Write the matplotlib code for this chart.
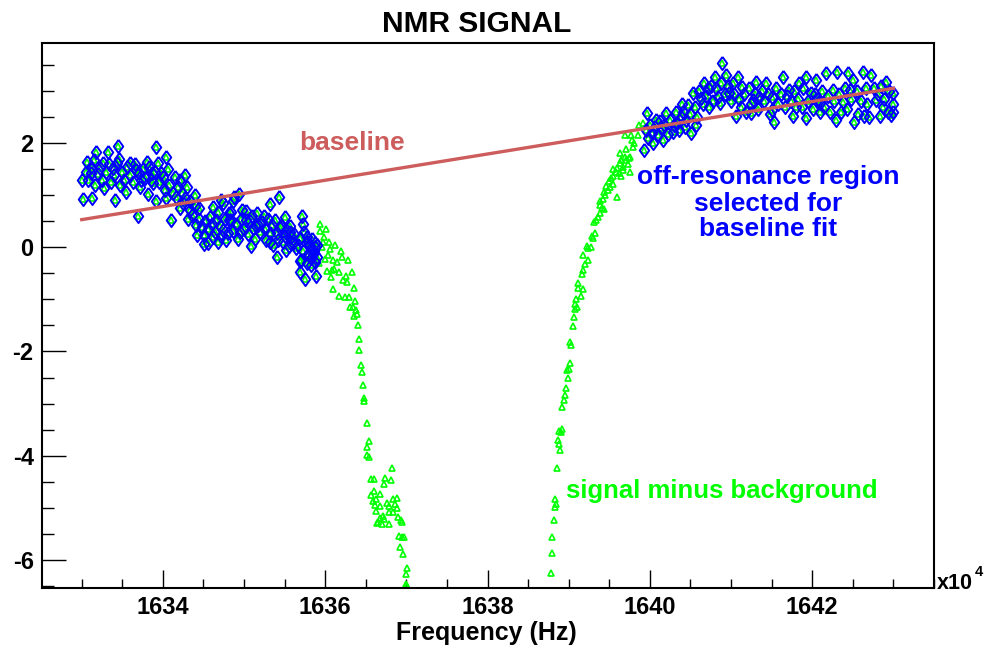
import matplotlib
matplotlib.use("Agg")
import matplotlib.pyplot as plt
from matplotlib.ticker import MultipleLocator, FormatStrFormatter

plt.rcParams['font.family'] = ['Liberation Sans', 'DejaVu Sans']
plt.rcParams['font.weight'] = 'bold'
plt.rcParams['axes.unicode_minus'] = False

# frequency in units of 1e4 Hz, signal in arbitrary units
# off-resonance points below the resonance
low_x = [1633.45, 1633.92, 1633.18, 1633.32, 1634.04, 1633.06, 1633.46, 1633.26, 1633.59, 1633.80,
         1633.94, 1633.00, 1633.11, 1633.38, 1633.67, 1633.86, 1633.98, 1634.27, 1633.16, 1633.28,
         1633.47, 1633.55, 1633.73, 1633.88, 1634.08, 1634.21, 1634.30, 1633.02, 1633.13, 1633.41,
         1633.82, 1633.91, 1634.04, 1634.16, 1634.27, 1634.39, 1633.69, 1634.10, 1634.21, 1634.33,
         1634.45, 1634.31, 1634.41, 1634.58, 1634.62, 1634.68, 1634.51, 1634.62, 1634.74, 1634.84,
         1634.88, 1634.55, 1634.68, 1634.78, 1634.42, 1634.51, 1634.86, 1634.95, 1635.08, 1634.94,
         1634.72, 1635.32, 1635.43, 1635.51, 1635.71, 1635.41, 1635.69, 1635.69, 1635.75, 1635.89,
         1635.85, 1635.60, 1635.32, 1635.17, 1635.03, 1634.82, 1635.52, 1635.77, 1634.86, 1634.74,
         1634.81, 1634.98, 1635.16, 1635.24, 1635.38, 1635.07, 1635.11, 1635.32, 1635.44, 1635.56,
         1635.73, 1635.27, 1635.42, 1635.58, 1635.69, 1635.79, 1635.87, 1635.52, 1635.64, 1635.70,
         1635.79, 1635.90, 1635.80, 1635.84, 1635.88, 1635.86, 1635.82, 1635.83, 1635.87, 1635.90,
         1633.05, 1633.08, 1633.12, 1633.15, 1633.20, 1633.22, 1633.25, 1633.30, 1633.33, 1633.36,
         1633.40, 1633.43, 1633.50, 1633.52, 1633.56, 1633.60, 1633.63, 1633.66, 1633.70, 1633.72,
         1633.76, 1633.78, 1633.83, 1633.85, 1633.90, 1633.95, 1634.00, 1634.02, 1634.06, 1634.12,
         1634.15, 1634.18, 1634.24, 1634.25, 1634.33, 1634.36, 1634.40, 1634.44, 1634.48, 1634.52,
         1634.56, 1634.60, 1634.64, 1634.66, 1634.70, 1634.72, 1634.76, 1634.80, 1634.84, 1634.90,
         1634.92, 1634.96, 1635.00, 1635.02, 1635.05, 1635.10, 1635.13, 1635.15, 1635.20, 1635.22,
         1635.26, 1635.30, 1635.34, 1635.36, 1635.40, 1635.46, 1635.48, 1635.50, 1635.55, 1635.57,
         1635.62, 1635.66, 1635.72, 1635.74, 1635.78, 1635.82]
low_y = [1.95, 1.92, 1.82, 1.83, 1.74, 1.64, 1.69, 1.61, 1.61, 1.63,
         1.61, 1.29, 1.42, 1.52, 1.48, 1.42, 1.42, 1.39, 1.20, 1.13,
         1.20, 1.07, 1.29, 1.23, 1.20, 1.29, 1.16, 0.92, 0.94, 0.91,
         1.02, 0.88, 0.94, 0.97, 0.94, 1.00, 0.60, 0.52, 0.75, 0.72,
         0.75, 0.54, 0.43, 0.59, 0.78, 0.68, 0.24, 0.20, 0.33, 0.52,
         0.97, 0.08, 0.11, 0.14, 0.24, 0.06, 0.32, 0.30, 0.02, 1.02,
         0.91, 0.83, 0.96, 0.59, 0.60, -0.18, -0.26, -0.47, -0.61, -0.56,
         -0.12, 0.08, 0.11, 0.43, 0.52, 0.52, 0.33, 0.20, 0.88, 0.84,
         0.65, 0.72, 0.65, 0.60, 0.52, 0.50, 0.36, 0.27, 0.36, 0.41,
         0.45, 0.13, 0.14, 0.20, 0.17, 0.11, 0.00, -0.05, -0.02, -0.24,
         -0.13, -0.19, 0.05, 0.15, 0.08, -0.08, -0.02, -0.35, -0.28, 0.05,
         1.45, 1.30, 1.55, 1.68, 1.40, 1.52, 1.30, 1.45, 1.60, 1.25,
         1.38, 1.62, 1.45, 1.30, 1.55, 1.38, 1.25, 1.60, 1.42, 1.15,
         1.50, 1.33, 1.55, 1.30, 1.45, 1.25, 1.35, 1.10, 1.50, 1.05,
         1.35, 1.15, 1.05, 0.85, 0.88, 0.62, 0.80, 0.55, 0.38, 0.50,
         0.35, 0.45, 0.30, 0.52, 0.40, 0.22, 0.55, 0.28, 0.68, 0.45,
         0.15, 0.55, 0.35, 0.70, 0.25, 0.60, 0.15, 0.40, 0.30, 0.48,
         0.35, 0.55, 0.42, 0.05, 0.28, 0.40, 0.10, 0.22, 0.02, 0.30,
         0.25, 0.05, -0.08, 0.30, -0.30, -0.20]

# off-resonance points above the resonance
high_x = [1640.89, 1639.97, 1639.93, 1640.04, 1640.16, 1640.28, 1640.34, 1640.20, 1640.08, 1640.45,
          1640.51, 1640.57, 1640.47, 1640.53, 1640.67, 1640.80, 1640.73, 1640.86, 1640.94, 1641.02,
          1641.08, 1641.14, 1640.98, 1641.12, 1641.25, 1641.31, 1641.43, 1641.35, 1641.51, 1641.53,
          1641.64, 1641.72, 1641.80, 1641.84, 1641.92, 1641.99, 1642.05, 1642.09, 1642.17, 1642.25,
          1642.31, 1642.38, 1642.44, 1642.46, 1642.50, 1642.52, 1642.29, 1642.62, 1642.73, 1642.66,
          1642.79, 1642.64, 1642.91, 1642.99, 1642.97, 1642.87, 1642.83, 1642.09, 1641.51, 1641.76,
          1641.92, 1641.27, 1641.19, 1641.06, 1640.84, 1640.71, 1640.63, 1640.41, 1640.36,
          1639.95, 1639.98, 1640.00, 1640.02, 1640.06, 1640.10, 1640.12, 1640.14, 1640.18, 1640.22,
          1640.25, 1640.30, 1640.32, 1640.38, 1640.40, 1640.43, 1640.49, 1640.55, 1640.58, 1640.61,
          1640.65, 1640.69, 1640.75, 1640.78, 1640.82, 1640.88, 1640.92, 1640.96, 1641.00, 1641.04,
          1641.10, 1641.16, 1641.22, 1641.24, 1641.29, 1641.33, 1641.38, 1641.41, 1641.46, 1641.48,
          1641.55, 1641.58, 1641.61, 1641.67, 1641.69, 1641.74, 1641.78, 1641.82, 1641.87, 1641.89,
          1641.95, 1642.01, 1642.03, 1642.07, 1642.12, 1642.14, 1642.20, 1642.22, 1642.27, 1642.33,
          1642.35, 1642.41, 1642.43, 1642.48, 1642.55, 1642.57, 1642.60, 1642.68, 1642.70, 1642.76,
          1642.81, 1642.85, 1642.89, 1642.93, 1642.95, 1643.00, 1642.99]
high_y = [3.54, 2.57, 1.87, 2.00, 2.06, 2.22, 2.38, 2.57, 2.44, 2.44,
          2.19, 2.35, 2.73, 2.96, 3.15, 3.27, 2.70, 2.76, 3.31, 3.15,
          3.27, 3.08, 2.96, 2.70, 2.57, 3.18, 3.15, 2.89, 2.89, 2.41,
          3.27, 3.02, 2.70, 3.15, 3.27, 2.96, 3.21, 2.60, 3.34, 3.02,
          3.37, 2.79, 3.34, 3.02, 3.21, 2.41, 2.44, 3.37, 3.31, 3.05,
          2.83, 2.51, 3.18, 2.96, 2.54, 2.70, 2.51, 2.76, 2.64, 2.51,
          2.48, 2.83, 2.60, 2.51, 2.88, 3.05, 2.86, 2.60, 2.25,
          2.25, 2.10, 2.35, 2.20, 2.30, 2.15, 2.42, 2.28, 2.35, 2.18,
          2.45, 2.35, 2.60, 2.50, 2.75, 2.30, 2.55, 2.70, 2.50, 3.00,
          2.75, 2.90, 3.10, 2.80, 3.05, 3.15, 2.95, 3.10, 2.80, 2.95,
          2.85, 2.95, 3.05, 2.75, 2.95, 2.65, 3.00, 2.80, 2.95, 2.55,
          3.05, 2.75, 2.95, 2.70, 2.90, 2.80, 3.00, 2.85, 2.70, 3.05,
          2.80, 2.65, 2.95, 2.85, 3.00, 2.70, 2.90, 2.60, 2.80, 2.95,
          2.60, 3.05, 2.65, 2.85, 3.00, 2.55, 2.80, 2.75, 2.50, 3.05,
          2.95, 3.10, 2.85, 2.60, 3.00, 2.75, 2.60]

# points inside the resonance
res_x = [1635.94, 1636.01, 1635.93, 1635.99, 1635.97, 1636.05, 1636.12, 1635.96, 1636.06, 1636.19,
         1636.04, 1636.21, 1636.00, 1636.09, 1636.14, 1636.28, 1635.92, 1636.11, 1636.02, 1636.08,
         1636.17, 1636.33, 1636.26, 1636.22, 1636.27, 1636.07, 1636.35, 1636.09, 1636.17, 1636.24,
         1636.29, 1636.37, 1636.31, 1636.34, 1636.38, 1636.36, 1636.39, 1636.40, 1636.41, 1636.42,
         1636.44, 1636.45, 1636.46, 1636.48, 1636.48, 1636.51, 1636.54, 1636.52, 1636.51, 1636.54,
         1636.82, 1636.57, 1636.60, 1636.74, 1636.81, 1636.73, 1636.60, 1636.68, 1636.57, 1636.63,
         1636.59, 1636.83, 1636.89, 1636.76, 1636.79, 1636.86, 1636.61, 1636.67, 1636.88, 1636.63,
         1636.78, 1636.83, 1636.71, 1636.68, 1636.73, 1636.65, 1636.70, 1636.64, 1636.78, 1636.90,
         1636.93, 1636.95, 1636.91, 1636.95, 1636.97, 1636.92, 1636.96, 1637.01, 1637.00, 1636.99,
         1637.00, 1637.01,
         1638.78, 1638.79, 1638.80, 1638.82, 1638.83, 1638.84, 1638.83, 1638.86, 1638.89, 1638.88,
         1638.87, 1638.90, 1638.88, 1638.92, 1638.92, 1638.94, 1638.95, 1638.97, 1638.99, 1638.98,
         1639.00, 1639.02, 1639.03, 1639.02, 1639.05, 1639.06, 1639.08, 1639.10, 1639.08, 1639.09,
         1639.15, 1639.12, 1639.17, 1639.12, 1639.16, 1639.18, 1639.20, 1639.24, 1639.18, 1639.24,
         1639.22, 1639.27, 1639.30, 1639.32, 1639.29, 1639.31, 1639.34, 1639.36, 1639.38, 1639.41,
         1639.43, 1639.39, 1639.42, 1639.38, 1639.45, 1639.43, 1639.48, 1639.59, 1639.46, 1639.51,
         1639.54, 1639.50, 1639.52, 1639.55, 1639.65, 1639.62, 1639.58, 1639.54, 1639.67, 1639.60,
         1639.67, 1639.73, 1639.63, 1639.75, 1639.71, 1639.65, 1639.74, 1639.69, 1639.76, 1639.63,
         1639.70, 1639.79, 1639.81, 1639.78, 1639.85, 1639.77, 1639.69, 1639.87, 1639.92]
res_y = [0.45, 0.35, 0.32, 0.19, 0.11, 0.10, 0.04, 0.01, -0.03, -0.08,
         -0.15, -0.18, -0.23, -0.24, -0.29, -0.24, -0.30, -0.42, -0.45, -0.44,
         -0.48, -0.47, -0.56, -0.63, -0.66, -0.58, -0.78, -0.81, -0.94, -0.96,
         -0.95, -1.03, -1.14, -1.15, -1.20, -1.31, -1.29, -1.50, -1.77, -1.97,
         -2.26, -2.40, -2.64, -2.89, -2.96, -3.38, -3.72, -3.83, -3.99, -4.03,
         -4.24, -4.45, -4.44, -4.42, -4.47, -4.54, -4.68, -4.73, -4.75, -4.83,
         -4.87, -4.83, -4.81, -4.91, -4.97, -4.93, -4.95, -4.97, -5.01, -5.06,
         -5.09, -5.08, -5.16, -5.20, -5.22, -5.27, -5.31, -5.30, -5.31, -5.17,
         -5.23, -5.28, -5.54, -5.57, -5.57, -5.75, -5.89, -6.16, -6.28, -6.46,
         -6.49, -6.50,
         -6.26, -5.87, -5.57, -5.23, -4.98, -4.93, -4.84, -4.24, -3.89, -3.78,
         -3.70, -3.54, -3.52, -3.49, -3.07, -2.94, -2.84, -2.71, -2.50, -2.36,
         -2.34, -2.23, -1.88, -1.81, -1.51, -1.34, -1.19, -1.14, -1.08, -0.99,
         -0.94, -0.79, -0.80, -0.68, -0.51, -0.44, -0.32, -0.24, -0.15, -0.02,
         0.03, 0.00, 0.17, 0.27, 0.22, 0.49, 0.52, 0.58, 0.65, 0.75,
         0.74, 0.81, 0.92, 0.89, 1.00, 1.07, 1.10, 0.96, 1.18, 1.16,
         1.22, 1.28, 1.32, 1.36, 1.37, 1.42, 1.45, 1.50, 1.48, 1.52,
         1.55, 1.60, 1.61, 1.45, 1.68, 1.68, 1.71, 1.74, 1.73, 1.80,
         1.88, 1.92, 2.01, 2.05, 2.16, 2.16, 2.16, 2.35, 2.38]

# linear baseline end points
base_x = [1633.0, 1643.0]
base_y = [0.53, 3.05]

GREEN = '#00ff00'
BLUE = '#0000ff'
RED = '#cd5c5c'

# ROOT-like open diamond: taller than wide
diamond = [(0, 1), (0.72, 0), (0, -1), (-0.72, 0), (0, 1)]

fig = plt.figure(figsize=(9.92, 6.46), dpi=100)
ax = fig.add_axes([0.0423, 0.0898, 0.8992, 0.8436])

# green signal under the blue selection, so the diamonds keep a green centre
ax.plot(low_x + res_x + high_x, low_y + res_y + high_y, ls='none', marker='^', ms=3.8,
        mfc='none', mec=GREEN, mew=1.2, zorder=2)
ax.plot(low_x + high_x, low_y + high_y, ls='none', marker=diamond, ms=9.5,
        mfc='none', mec=BLUE, mew=1.4, zorder=3)
ax.plot(base_x, base_y, color=RED, lw=2.4, zorder=4)

ax.set_xlim(1632.51, 1643.5)
ax.set_ylim(-6.54, 3.92)

ax.xaxis.set_major_locator(MultipleLocator(2))
ax.xaxis.set_minor_locator(MultipleLocator(0.5))
ax.yaxis.set_major_locator(MultipleLocator(2))
ax.yaxis.set_minor_locator(MultipleLocator(0.5))
ax.xaxis.set_major_formatter(FormatStrFormatter('%d'))
ax.yaxis.set_major_formatter(FormatStrFormatter('%d'))

ax.tick_params(axis='x', which='major', direction='in', length=13, width=1, labelsize=17, pad=6)
ax.tick_params(axis='x', which='minor', direction='in', length=6.5, width=1)
ax.tick_params(axis='y', which='major', direction='in', length=17, width=1, labelsize=17, pad=6)
ax.tick_params(axis='y', which='minor', direction='in', length=8.5, width=1)
for lab in ax.get_xticklabels() + ax.get_yticklabels():
    lab.set_fontweight('bold')
for sp in ax.spines.values():
    sp.set_linewidth(1.5)

ax.text(1636.33, 2.0, 'baseline', color=RED, fontsize=19, fontweight='bold',
        ha='center', va='center')
ax.text(1641.46, 1.35, 'off-resonance region', color=BLUE, fontsize=19, fontweight='bold',
        ha='center', va='center')
ax.text(1641.46, 0.83, 'selected for', color=BLUE, fontsize=19, fontweight='bold',
        ha='center', va='center')
ax.text(1641.46, 0.35, 'baseline fit', color=BLUE, fontsize=19, fontweight='bold',
        ha='center', va='center')
ax.text(1638.97, -4.68, 'signal minus background', color=GREEN, fontsize=18.5,
        fontweight='bold', ha='left', va='center')

fig.text(477 / 992, 1 - 24 / 646, 'NMR SIGNAL', fontsize=21.5, fontweight='bold',
         ha='center', va='center')
fig.text(486 / 992, 1 - 633 / 646, 'Frequency (Hz)', fontsize=18, fontweight='bold',
         ha='center', va='center')
fig.text(937 / 992, 1 - 589 / 646, 'x10', fontsize=15.5, fontweight='bold',
         ha='left', va='baseline')
fig.text(975 / 992, 1 - 576 / 646, '4', fontsize=10.5, fontweight='bold',
         ha='left', va='baseline')

fig.savefig('out.png', dpi=100)
